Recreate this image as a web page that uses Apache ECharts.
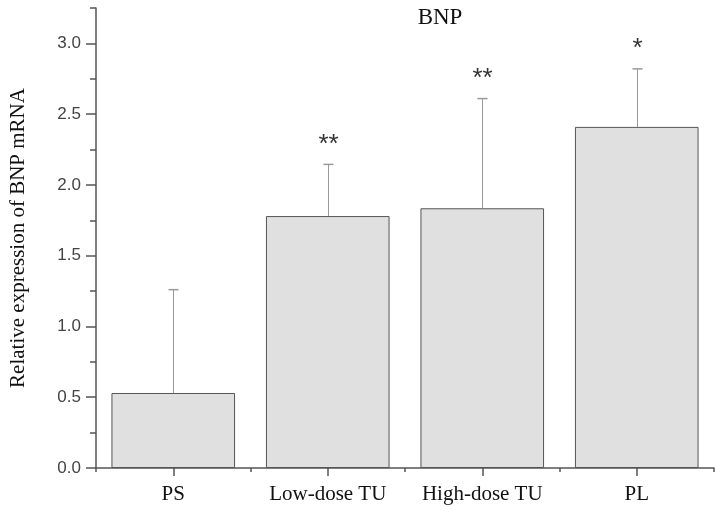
<!DOCTYPE html>
<html>
<head>
<meta charset="utf-8">
<script src="https://cdn.jsdelivr.net/npm/echarts@6/dist/echarts.min.js"></script>
<style>html,body{margin:0;padding:0;background:#fff;}#c{width:724px;height:514px;}</style>
</head>
<body>
<div id="c"></div>
<script>
const categories = ['PS', 'Low-dose TU', 'High-dose TU', 'PL'];
const means = [0.53, 1.78, 1.835, 2.41];
const errorTops = [1.26, 2.145, 2.61, 2.82];
const stars = ['', '**', '**', '*'];
const yMajorTicks = [0, 0.5, 1.0, 1.5, 2.0, 2.5, 3.0];

const chart = echarts.init(document.getElementById('c'), null, {renderer: 'canvas'});
const serif = 'Liberation Serif';
const sans = 'Liberation Sans';
const axisColor = '#555';

const option = {
  animation: false,
  backgroundColor: '#fff',
  title: {
    text: 'BNP', left: 435, top: 1, textAlign: 'center',
    textStyle: {fontFamily: serif, fontSize: 23, fontWeight: 'normal', color: '#111'}
  },
  grid: {left: 96, right: 10, top: 8, bottom: 46, containLabel: false, outerBoundsMode: 'none'},
  xAxis: [
    {
      type: 'category', data: categories, boundaryGap: true, position: 'bottom',
      axisLine: {show: true, lineStyle: {color: axisColor, width: 1.5}},
      axisTick: {show: true, alignWithLabel: true, length: 8, lineStyle: {color: axisColor, width: 1.5}},
      axisLabel: {fontFamily: serif, fontSize: 21, color: '#111', margin: 16, interval: 0}
    },
    {
      type: 'category', data: categories, boundaryGap: true, position: 'bottom',
      axisLine: {show: false},
      axisTick: {show: true, alignWithLabel: false, interval: 0, length: 4, lineStyle: {color: axisColor, width: 1.5}},
      axisLabel: {show: false}
    }
  ],
  yAxis: [
    {
      type: 'value', min: 0, max: 3.25, interval: 0.25, position: 'left',
      name: 'Relative expression of BNP mRNA', nameLocation: 'middle', nameGap: 67,
      nameTextStyle: {fontFamily: serif, fontSize: 21, color: '#111'},
      axisLine: {show: true, lineStyle: {color: axisColor, width: 1.5}},
      axisTick: {show: true, length: 6, lineStyle: {color: axisColor, width: 1.5}},
      axisLabel: {show: false},
      splitLine: {show: false}
    },
    {
      type: 'value', min: 0, max: 3.25, position: 'left',
      axisLine: {show: false},
      axisTick: {show: true, length: 10, customValues: yMajorTicks, lineStyle: {color: axisColor, width: 1.5}},
      axisLabel: {show: true, customValues: yMajorTicks, fontFamily: sans, fontSize: 17, color: '#444', margin: 15,
        formatter: v => v.toFixed(1)},
      splitLine: {show: false}
    }
  ],
  series: [
    {
      type: 'bar', data: means, xAxisIndex: 0, yAxisIndex: 0, barWidth: '80%',
      itemStyle: {color: '#e0e0e0', borderColor: '#555', borderWidth: 1},
      z: 2
    },
    {
      type: 'custom', xAxisIndex: 0, yAxisIndex: 0, z: 3,
      data: categories.map((c, i) => [i, means[i], errorTops[i]]),
      renderItem: function (params, api) {
        const base = api.coord([api.value(0), api.value(1)]);
        const top = api.coord([api.value(0), api.value(2)]);
        const x = Math.round(base[0]) + 0.5;
        const children = [
          {type: 'line', shape: {x1: x, y1: base[1], x2: x, y2: top[1]}, style: {stroke: '#999', lineWidth: 1}},
          {type: 'line', shape: {x1: x - 5, y1: top[1], x2: x + 5, y2: top[1]}, style: {stroke: '#999', lineWidth: 1.5}}
        ];
        const s = stars[params.dataIndex];
        if (s) {
          children.push({type: 'text', x: x, y: top[1] - 20,
            style: {text: s, fontFamily: sans, fontSize: 26, fill: '#333', align: 'center', verticalAlign: 'middle'}});
        }
        return {type: 'group', children: children};
      }
    }
  ]
};
chart.setOption(option);
</script>
</body>
</html>
